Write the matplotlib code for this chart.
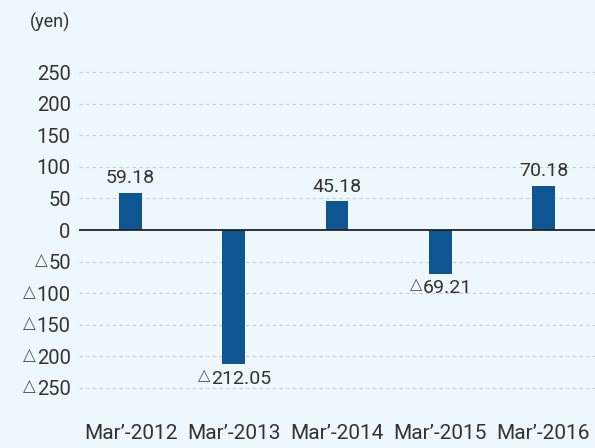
import matplotlib
matplotlib.use("Agg")
import matplotlib.pyplot as plt

categories = ["Mar\u2019-2012", "Mar\u2019-2013", "Mar\u2019-2014", "Mar\u2019-2015", "Mar\u2019-2016"]
values = [59.18, -212.05, 45.18, -69.21, 70.18]
yticks = [250, 200, 150, 100, 50, 0, -50, -100, -150, -200, -250]

TRI = "\u25b3"
bg = "#edf7fc"
bar_color = "#0d5691"
text_color = "#333333"
tri_color = "#555555"
plt.rcParams["font.family"] = ["Roboto", "DejaVu Sans"]

fig = plt.figure(figsize=(5.95, 4.48), dpi=100, facecolor=bg)
ax = fig.add_axes([0.1328, 0.1058, 0.8672, 0.7616], facecolor=bg)

x = list(range(len(categories)))
ax.bar(x, values, width=0.22, color=bar_color, zorder=3)
ax.set_xlim(-0.5, 4.5)
ax.set_ylim(-270, 270)

for yv in yticks:
    if yv != 0:
        ax.axhline(yv, color="#c8cdd0", lw=0.8, ls=(0, (3, 3)), zorder=1)
ax.axhline(0, color="#222222", lw=1.3, zorder=4)

ax.set_yticks(yticks)
ax.set_yticklabels([])
ax.set_xticks(x)
ax.set_xticklabels(categories, fontsize=15, color=text_color)
ax.tick_params(axis="both", length=0)
ax.tick_params(axis="x", pad=17)
for s in ax.spines.values():
    s.set_visible(False)

ytrans = ax.get_yaxis_transform()
for yv in yticks:
    t = ax.annotate(str(abs(yv)), (0, yv), xycoords=ytrans, xytext=(-6, 0),
                    textcoords="offset points", ha="right", va="center_baseline",
                    fontsize=14.5, color=text_color, annotation_clip=False)
    if yv < 0:
        ax.annotate(TRI, xy=(0, 0.5), xycoords=t, xytext=(-0.5, 2.5),
                    textcoords="offset points", ha="right", va="center",
                    fontsize=12, color=tri_color, family="DejaVu Sans",
                    annotation_clip=False)

for xi, v in zip(x, values):
    s = f"{abs(v):.2f}"
    if v >= 0:
        ax.annotate(s, (xi, v), xytext=(0, 4), textcoords="offset points",
                    ha="center", va="bottom", fontsize=14, color=text_color)
    else:
        t = ax.annotate(s, (xi, v), xytext=(5, -4), textcoords="offset points",
                        ha="center", va="top", fontsize=14, color=text_color)
        ax.annotate(TRI, xy=(0, 0.5), xycoords=t, xytext=(-0.5, 2.5),
                    textcoords="offset points", ha="right", va="center",
                    fontsize=11.5, color=tri_color, family="DejaVu Sans",
                    annotation_clip=False)

fig.text(30 / 595, 1 - 22 / 448, "(yen)", fontsize=13, color=text_color, ha="left", va="center")

fig.savefig("out.png", dpi=100, facecolor=bg)
